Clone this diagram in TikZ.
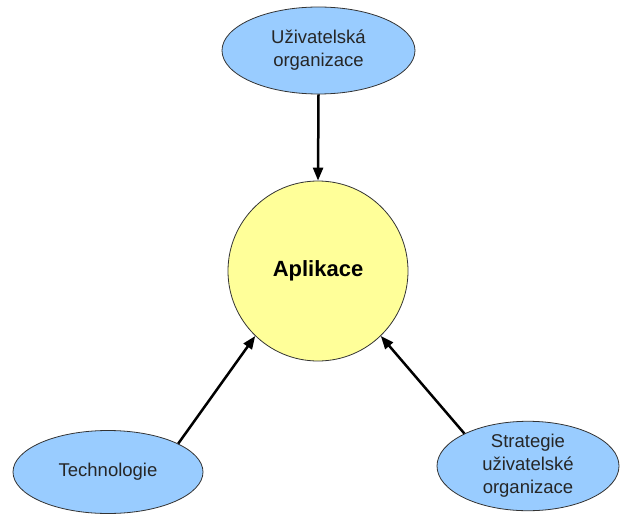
\documentclass[tikz,border=0pt]{standalone}
\usepackage{fontspec}
\setmainfont{Liberation Sans}
\usepackage{tikz}
\usetikzlibrary{arrows.meta,shapes.geometric}

\definecolor{bubble}{HTML}{99CCFF}
\definecolor{core}{HTML}{FFFF99}

\begin{document}
\begin{tikzpicture}[x=1pt, y=1pt,
    side/.style={ellipse, draw=black!80, line width=0.8pt, fill=bubble, inner sep=0pt,
                 align=center, text=black!85, font=\fontsize{18.5}{23}\selectfont},
    hub/.style={circle, draw=black!80, line width=0.8pt, fill=core, inner sep=0pt,
                minimum size=180pt, font=\fontsize{22}{26}\selectfont\bfseries},
    link/.style={line width=2.5pt, -{Triangle[length=13pt, width=10pt]}}]

    \useasboundingbox (0,0) rectangle (623,515);

    \node[hub] (app) at (318,244) {Aplikace};
    \node[side, minimum width=193pt, minimum height=87pt] (org) at (318.5,464.5) {Uživatelská\\organizace};
    \node[side, minimum width=190pt, minimum height=83pt] (tech) at (108,43) {Technologie};
    \node[side, minimum width=182pt, minimum height=88pt] (strat) at (528,49) {Strategie\\uživatelské\\organizace};

    \draw[link] (org.south) -- (app.north);
    \draw[link] (tech.22.6) -- (app.226.3);
    \draw[link] (strat.153.1) -- (app.314.6);

\end{tikzpicture}
\end{document}
